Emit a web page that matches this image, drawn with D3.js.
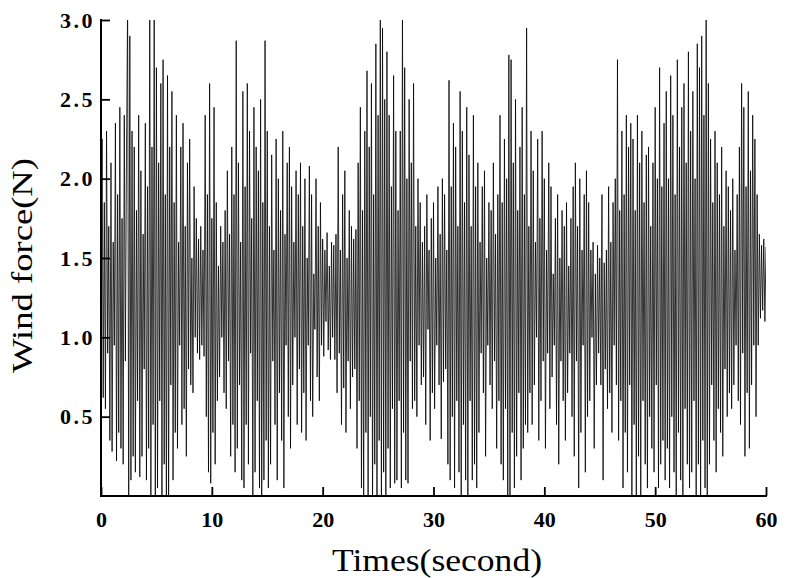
<!DOCTYPE html>
<html>
<head>
<meta charset="utf-8">
<script src="https://cdn.jsdelivr.net/npm/d3@7"></script>
<style>
  html, body { margin: 0; padding: 0; background: #fff; }
  svg { display: block; }
</style>
</head>
<body>
<svg id="chart" width="786" height="578"></svg>
<script>
const sampleStep = 0.1;
const windForce = [
  1.30, 2.25, 0.62, 1.85, 0.55, 2.30, 0.90, 1.70, 0.35, 2.10, 0.28, 1.60, 0.95, 2.35, 0.22, 1.90, 0.40, 2.45, 0.30, 1.75, 0.20, 2.40, 0.85, 2.15, 3.10, -0.05, 2.90, 0.10, 2.30, 0.25,
  2.20, 0.15, 1.80, 0.60, 2.40, 0.12, 2.05, 0.25, 1.65, 0.80, 2.35, 0.10, 1.95, 0.30, 3.10, -0.10, 2.20, 0.45, 3.05, -0.05, 2.70, 0.05, 2.10, 0.60, 2.60, -0.05, 2.75, 0.20, 1.90, -0.08,
  2.65, 0.00, 2.20, 0.70, 2.55, 0.10, 1.85, 0.40, 2.40, 0.30, 1.60, 0.95, 2.20, 0.45, 2.35, 0.55, 1.70, 0.25, 2.10, 0.80, 2.25, 0.70, 1.50, 0.65, 1.95, 1.00, 1.75, 0.90, 1.62, 0.86,
  1.70, 0.95, 1.55, 0.88, 2.40, 0.50, 1.90, 0.15, 2.60, 0.08, 1.75, 0.40, 2.45, 0.20, 1.85, 0.60, 1.45, 0.75, 1.70, 1.00, 1.60, 0.65, 1.80, 0.55, 2.05, 0.85, 1.65, 0.25, 2.20, 0.45,
  1.90, 0.15, 2.87, 0.30, 2.10, 0.70, 1.60, 0.10, 2.55, 0.05, 1.95, 0.45, 2.60, 0.20, 2.30, 0.90, 1.75, 0.00, 2.45, 0.15, 2.20, 0.60, 2.05, 0.05, 2.50, -0.05, 1.85, 0.10, 2.87, 0.35,
  2.30, 0.05, 1.70, 0.20, 2.15, 0.85, 1.55, 0.45, 2.25, 0.10, 2.00, 0.65, 1.80, 0.35, 2.30, 0.05, 1.65, 0.95, 2.10, 0.50, 2.20, 0.30, 1.95, 0.70, 1.60, 1.00, 2.05, 0.45, 1.90, 0.80,
  2.10, 0.40, 1.70, 0.65, 2.00, 0.35, 1.50, 0.95, 2.08, 0.60, 1.90, 0.50, 1.40, 1.05, 2.00, 0.75, 1.70, 0.60, 1.85, 0.95, 1.62, 0.88, 1.55, 1.10, 1.66, 0.92, 1.45, 0.86, 1.60, 1.00,
  1.58, 0.86, 1.65, 0.65, 2.20, 0.90, 1.55, 0.45, 1.90, 0.68, 2.05, 0.40, 1.50, 0.85, 1.80, 0.55, 1.70, 0.75, 1.62, 0.80, 1.68, 0.30, 2.10, 0.60, 2.45, 0.05, 1.80, -0.02, 2.30, 0.40,
  2.68, 0.00, 2.20, 0.50, 2.60, -0.05, 1.90, 0.20, 2.85, -0.10, 2.40, 0.35, 3.05, -0.08, 2.95, 0.15, 2.50, -0.10, 2.80, 0.30, 2.40, 0.05, 1.95, 0.55, 2.65, 0.08, 2.30, 0.10, 1.80, 0.60,
  2.30, 0.05, 3.05, 0.40, 2.70, 0.10, 2.00, 0.08, 2.50, 0.85, 2.10, 0.55, 2.60, 0.60, 1.70, 0.50, 2.00, 0.95, 1.85, 0.70, 1.60, 0.75, 1.70, 0.45, 1.90, 1.05, 1.55, 0.35, 1.75, 0.65,
  1.85, 0.55, 1.50, 0.95, 1.95, 0.70, 1.65, 0.36, 2.00, 0.72, 1.90, 0.80, 1.55, 0.20, 2.62, 0.10, 1.95, 0.50, 2.35, 0.05, 2.20, 0.60, 1.70, 0.15, 2.55, 0.00, 2.30, 0.45, 1.85, 0.10,
  2.45, -0.05, 2.15, 0.60, 1.70, 0.10, 2.40, 0.20, 1.95, 0.05, 2.10, 0.40, 1.60, 0.90, 1.95, 0.65, 2.05, 0.25, 1.50, 0.95, 1.85, 0.70, 1.80, 0.55, 2.10, 0.85, 1.65, 0.30, 1.90, 0.60,
  2.40, 0.20, 1.85, 0.10, 2.25, 0.55, 2.00, 0.00, 2.78, -0.02, 2.75, 0.40, 2.10, 0.05, 2.50, 0.25, 1.80, 0.65, 2.20, 0.10, 2.45, 0.30, 1.90, 0.45, 2.95, 0.40, 1.70, 0.65, 2.30, 0.45,
  2.05, 0.70, 1.60, 1.00, 2.25, 0.35, 1.75, 0.60, 2.30, 0.85, 2.00, 0.30, 1.55, 0.90, 2.10, 0.55, 1.95, 0.75, 1.40, 0.95, 1.75, 0.45, 1.90, 0.20, 1.50, 0.85, 1.80, 0.60, 1.70, 0.35,
  1.85, 0.65, 1.45, 0.90, 1.75, 0.50, 1.95, 0.25, 2.10, 0.85, 1.70, 0.05, 2.00, 0.40, 1.55, 0.95, 1.90, 0.15, 2.05, 0.50, 1.85, 0.60, 1.55, 1.00, 1.60, 0.30, 1.40, 0.70, 1.58, 0.90,
  1.50, 0.70, 1.90, 0.10, 1.47, 0.80, 1.55, 0.55, 1.95, 0.65, 1.60, 0.40, 1.85, 0.95, 2.00, 0.70, 2.75, 0.35, 1.80, 0.60, 2.30, 0.05, 1.90, 0.40, 2.40, 0.15, 2.20, 0.70, 2.35, -0.05,
  2.25, 0.45, 1.80, 0.00, 2.40, 0.25, 2.10, -0.05, 2.30, 0.60, 1.85, 0.20, 2.15, 0.05, 2.20, 0.50, 1.70, 0.30, 2.10, 0.15, 2.45, 0.70, 2.00, 0.05, 2.70, 0.20, 1.95, 0.35, 2.35, 0.10,
  2.55, 0.30, 2.00, 0.05, 2.65, 0.50, 2.40, 0.15, 1.90, 0.00, 2.75, 0.40, 2.20, 0.10, 2.45, -0.05, 2.60, 0.55, 2.10, 0.20, 2.80, 0.05, 2.30, 0.15, 2.55, 0.60, 2.00, 0.00, 2.85, 0.20,
  2.70, -0.05, 2.90, 0.35, 2.40, 0.05, 3.05, -0.05, 2.60, 0.20, 2.25, 0.70, 1.85, 0.35, 2.30, 0.15, 2.10, 0.55, 1.90, 0.40, 2.20, 0.25, 1.70, 0.80, 2.05, 0.50, 1.95, 0.65, 1.80, 0.55,
  2.00, 0.70, 1.55, 0.95, 1.90, 0.60, 2.20, 0.45, 2.60, 0.90, 2.45, 0.25, 1.95, 0.65, 2.55, 0.30, 2.05, 0.70, 2.40, 0.95, 2.25, 0.50, 1.90, 0.95, 1.65, 1.12, 1.58, 1.17, 1.62, 1.10,
  1.57
];
const xTicks = [0, 10, 20, 30, 40, 50, 60];
const xMinorTicks = [5, 15, 25, 35, 45, 55];
const yTicks = [0.5, 1.0, 1.5, 2.0, 2.5, 3.0];
const yMinorTicks = [0.25, 0.75, 1.25, 1.75, 2.25, 2.75];
const xTitle = "Times(second)";
const yTitle = "Wind force(N)";

// ---- layout ----
const svg = d3.select("#chart");
const m = { left: 101, right: 766, top: 20, bottom: 496 };
const x = d3.scaleLinear().domain([0, 60]).range([m.left, m.right]);
const y = d3.scaleLinear().domain([0, 3]).range([m.bottom, m.top]);

svg.append("defs").append("clipPath").attr("id", "clip")
  .append("rect").attr("x", m.left).attr("y", m.top)
  .attr("width", m.right - m.left).attr("height", m.bottom - m.top);

const pts = windForce.map((v, i) => [i * sampleStep, v]);
svg.append("path")
  .datum(pts)
  .attr("clip-path", "url(#clip)")
  .attr("fill", "none")
  .attr("stroke", "#000")
  .attr("stroke-width", 0.8)
  .attr("stroke-linejoin", "miter")
  .attr("d", d3.line().x(d => x(d[0])).y(d => y(d[1])));

const serif = "'Liberation Serif','Times New Roman',serif";

// x axis (ticks inward)
const gx = svg.append("g").attr("transform", `translate(0,${m.bottom})`);
gx.call(d3.axisBottom(x).tickValues(xMinorTicks).tickSize(-5).tickFormat(""));
gx.call(d3.axisBottom(x).tickValues(xTicks).tickSize(-9).tickPadding(15).tickFormat(d3.format("d")));
gx.selectAll(".domain").remove();
gx.append("line").attr("x1", m.left - 1).attr("x2", m.right + 1).attr("stroke", "#000").attr("stroke-width", 2);
gx.selectAll(".tick line").attr("stroke", "#000").attr("stroke-width", 1.8);
gx.selectAll(".tick text").attr("font-family", serif).attr("font-weight", "bold")
  .attr("font-size", 22).attr("fill", "#000");

// y axis (ticks inward)
const gy = svg.append("g").attr("transform", `translate(${m.left},0)`);
gy.call(d3.axisLeft(y).tickValues(yMinorTicks).tickSize(-5).tickFormat(""));
gy.call(d3.axisLeft(y).tickValues(yTicks).tickSize(-9).tickPadding(6).tickFormat(d3.format(".1f")));
gy.selectAll(".domain").remove();
gy.append("line").attr("y1", m.top - 1).attr("y2", m.bottom + 1).attr("stroke", "#000").attr("stroke-width", 2);
gy.selectAll(".tick line").attr("stroke", "#000").attr("stroke-width", 1.8);
gy.selectAll(".tick text").attr("font-family", serif).attr("font-weight", "bold")
  .attr("font-size", 22).attr("letter-spacing", "2.5px").attr("fill", "#000");

// titles
svg.append("text").text(xTitle)
  .attr("x", 437).attr("y", 571)
  .attr("text-anchor", "middle")
  .attr("textLength", 210).attr("lengthAdjust", "spacingAndGlyphs")
  .attr("font-family", serif).attr("font-size", 32).attr("fill", "#000");
svg.append("text").text(yTitle)
  .attr("transform", `translate(32,265.5) rotate(-90)`)
  .attr("text-anchor", "middle")
  .attr("textLength", 215).attr("lengthAdjust", "spacingAndGlyphs")
  .attr("font-family", serif).attr("font-size", 30).attr("fill", "#000");
</script>
</body>
</html>
